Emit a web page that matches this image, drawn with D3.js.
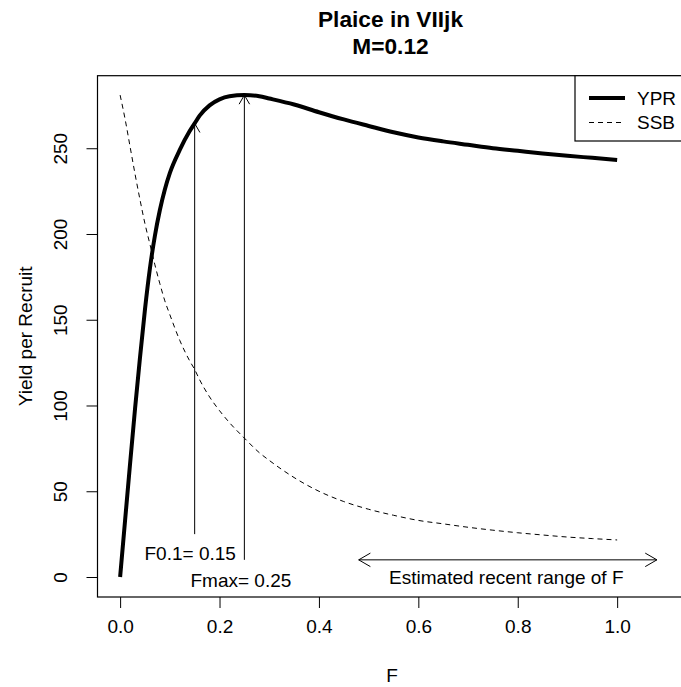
<!DOCTYPE html>
<html>
<head>
<meta charset="utf-8">
<script src="https://cdn.jsdelivr.net/npm/d3@7"></script>
<style>
  body { margin: 0; background: #fff; }
  svg { display: block; font-family: "Liberation Sans", Arial, sans-serif; }
</style>
</head>
<body>
<div id="main"></div>
<script>
// fishing mortality grid
const fValues = [0, 0.01, 0.02, 0.03, 0.04, 0.05, 0.06, 0.07, 0.08, 0.09, 0.10,
  0.12, 0.14, 0.15, 0.16, 0.18, 0.20, 0.22, 0.25, 0.28, 0.30, 0.35, 0.40, 0.45,
  0.50, 0.55, 0.60, 0.65, 0.70, 0.75, 0.80, 0.85, 0.90, 0.95, 1.0];

const yprValues = [0, 33, 66, 98, 128, 156, 180, 199, 214, 226, 235.5,
  249, 260, 264.5, 269, 275, 278.5, 280.3, 281, 280.3, 279, 275.5, 271, 266.8,
  263, 259.3, 256.3, 254, 252, 250, 248.5, 247, 245.6, 244.4, 243.2];

const ssbValues = [281, 267, 251, 235, 220, 206, 194, 182, 171, 161, 153,
  138, 126, 121, 115, 105, 97, 90, 81, 72.5, 68, 58, 50, 44,
  39.5, 36, 33, 31, 29, 27.3, 25.8, 24.5, 23.3, 22.4, 21.6];

const xTicks = [0, 0.2, 0.4, 0.6, 0.8, 1.0];
const yTicks = [0, 50, 100, 150, 200, 250];

const fRef = 0.15;      // F0.1
const fMax = 0.25;      // Fmax
const fRange = [0.48, 1.08];

const width = 681;
const height = 687;
const box = { left: 97.5, right: 684, top: 75.7, bottom: 597 };

const x = d3.scaleLinear().domain([-0.0455, 1.1345]).range([box.left, box.right]);
const y = d3.scaleLinear().domain([-11.66, 292.3]).range([box.bottom, box.top]);

const svg = d3.select("#main")
  .append("svg")
  .attr("width", width)
  .attr("height", height);

const fs = 19;

// title
svg.append("text")
  .attr("x", 390.5).attr("y", 27)
  .attr("text-anchor", "middle")
  .style("font-size", "22.7px").style("font-weight", "bold")
  .text("Plaice in VIIjk");
svg.append("text")
  .attr("x", 390.5).attr("y", 53.5)
  .attr("text-anchor", "middle")
  .style("font-size", "22.7px").style("font-weight", "bold")
  .text("M=0.12");

// frame
svg.append("rect")
  .attr("x", box.left).attr("y", box.top)
  .attr("width", box.right - box.left).attr("height", box.bottom - box.top)
  .attr("fill", "none").attr("stroke", "#000").attr("stroke-width", 1.2);

// axes
const xAxis = d3.axisBottom(x).tickValues(xTicks).tickSize(11).tickPadding(12)
  .tickFormat(d3.format(".1f"));
const gx = svg.append("g")
  .attr("transform", `translate(0,${box.bottom})`)
  .call(xAxis);
gx.select(".domain").remove();
gx.selectAll("text").style("font-size", fs + "px").style("font-family", "Liberation Sans");

const yAxis = d3.axisLeft(y).tickValues(yTicks).tickSize(11).tickFormat(d3.format("d"));
const gy = svg.append("g")
  .attr("transform", `translate(${box.left},0)`)
  .call(yAxis);
gy.select(".domain").remove();
gy.selectAll("text")
  .attr("x", 0).attr("y", 0)
  .attr("text-anchor", "middle")
  .attr("transform", "translate(-37,0) rotate(-90)")
  .attr("dy", "0.35em")
  .style("font-size", fs + "px").style("font-family", "Liberation Sans");

// axis labels
svg.append("text")
  .attr("x", 392).attr("y", 675).attr("dy", "0.35em")
  .attr("text-anchor", "middle")
  .style("font-size", fs + "px")
  .text("F");
svg.append("text")
  .attr("transform", `translate(25,${(box.top + box.bottom) / 2}) rotate(-90)`)
  .attr("dy", "0.35em")
  .attr("text-anchor", "middle")
  .style("font-size", fs + "px")
  .text("Yield per Recruit");

const rows = fValues.map((f, i) => ({ f: f, ypr: yprValues[i], ssb: ssbValues[i] }));

svg.append("clipPath").attr("id", "plotclip")
  .append("rect")
  .attr("x", box.left).attr("y", box.top)
  .attr("width", box.right - box.left).attr("height", box.bottom - box.top);

const plot = svg.append("g").attr("clip-path", "url(#plotclip)");

plot.append("path")
  .datum(rows)
  .attr("fill", "none")
  .attr("stroke", "#000")
  .attr("stroke-width", 1)
  .attr("stroke-dasharray", "5,4")
  .attr("d", d3.line().x(d => x(d.f)).y(d => y(d.ssb)).curve(d3.curveMonotoneX));

plot.append("path")
  .datum(rows)
  .attr("fill", "none")
  .attr("stroke", "#000")
  .attr("stroke-width", 4)
  .attr("stroke-linejoin", "round")
  .attr("d", d3.line().x(d => x(d.f)).y(d => y(d.ypr)).curve(d3.curveMonotoneX));

// arrows
const arrowHead = (x0, y0, x1, y1, len) => {
  const ang = Math.atan2(y1 - y0, x1 - x0);
  const a = Math.PI / 6;
  const p1 = [x1 - len * Math.cos(ang - a), y1 - len * Math.sin(ang - a)];
  const p2 = [x1 - len * Math.cos(ang + a), y1 - len * Math.sin(ang + a)];
  return `M${p1[0]},${p1[1]}L${x1},${y1}L${p2[0]},${p2[1]}`;
};

const drawArrow = (x0, y0, x1, y1, len, both) => {
  const g = plot.append("g")
    .attr("fill", "none").attr("stroke", "#000").attr("stroke-width", 1);
  g.append("line").attr("x1", x0).attr("y1", y0).attr("x2", x1).attr("y2", y1);
  g.append("path").attr("d", arrowHead(x0, y0, x1, y1, len));
  if (both) g.append("path").attr("d", arrowHead(x1, y1, x0, y0, len));
};

const yprAt = f => yprValues[fValues.indexOf(f)];

drawArrow(x(fRef), y(25), x(fRef), y(yprAt(fRef)), 10.5, false);
drawArrow(x(fMax), y(10), x(fMax), y(yprAt(fMax)), 10.5, false);
drawArrow(x(fRange[0]), y(10), x(fRange[1]), y(10), 13.5, true);

const note = (fx, v, label) => {
  svg.append("text")
    .attr("x", x(fx)).attr("y", y(v)).attr("dy", "0.35em")
    .attr("text-anchor", "middle")
    .style("font-size", fs + "px")
    .text(label);
};
note(0.141, 14, "F0.1= 0.15");
note(0.243, -2, "Fmax= 0.25");
note(0.777, 0, "Estimated recent range of F");

// legend
const legend = svg.append("g");
legend.append("rect")
  .attr("x", 575).attr("y", box.top)
  .attr("width", box.right - 575).attr("height", 141 - box.top)
  .attr("fill", "#fff").attr("stroke", "#000").attr("stroke-width", 1.2);

const legendItems = [
  { name: "YPR", width: 4, dash: null },
  { name: "SSB", width: 1, dash: "5,4" }
];
legendItems.forEach((item, i) => {
  const ly = 98 + i * 24.5;
  legend.append("line")
    .attr("x1", 589).attr("x2", 625).attr("y1", ly).attr("y2", ly)
    .attr("stroke", "#000").attr("stroke-width", item.width)
    .attr("stroke-dasharray", item.dash);
  legend.append("text")
    .attr("x", 637).attr("y", ly).attr("dy", "0.35em")
    .style("font-size", fs + "px")
    .text(item.name);
});
</script>
</body>
</html>
